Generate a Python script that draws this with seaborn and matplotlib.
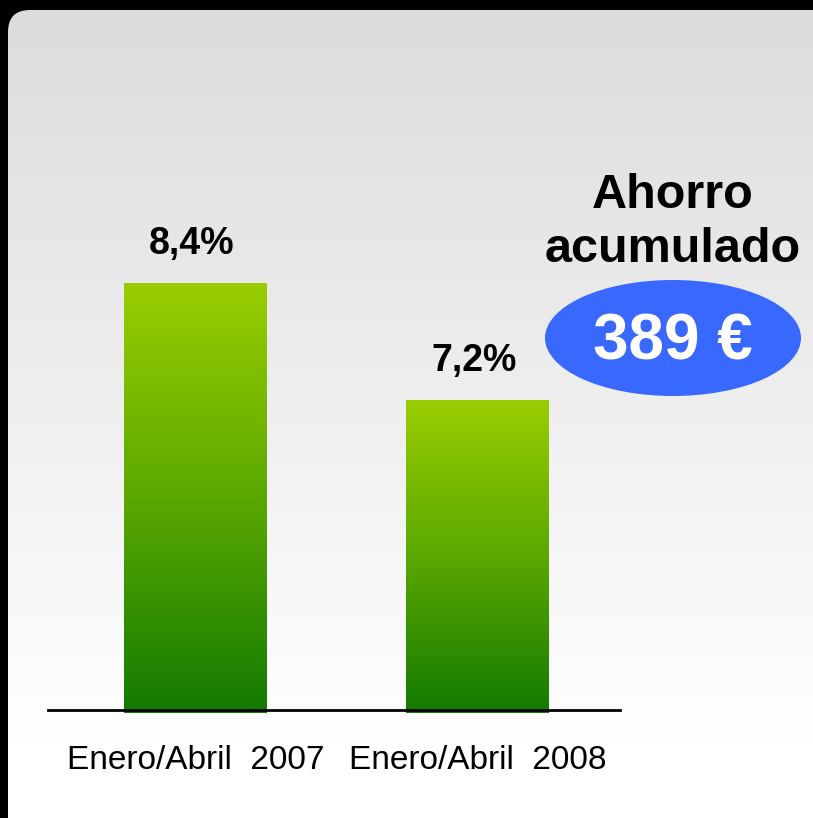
import numpy as np
import pandas as pd
import matplotlib.pyplot as plt
import seaborn as sns
from matplotlib.colors import LinearSegmentedColormap
from matplotlib.patches import FancyBboxPatch, Ellipse

# -----------------------------------------------------------------------------
# Data
# -----------------------------------------------------------------------------

periods = ["Enero/Abril  2007", "Enero/Abril  2008"]
savings_rate = [8.4, 7.2]
rate_labels = ["8,4%", "7,2%"]
ahorro_total = "389 €"
ahorro_lines = ["Ahorro", "acumulado"]

df = pd.DataFrame({"period": periods, "rate": savings_rate})

# -----------------------------------------------------------------------------
# Plotting attributes
# -----------------------------------------------------------------------------

sns.set_theme(style="white")
plt.rcParams["font.family"] = ["Liberation Sans", "DejaVu Sans"]

W, H = 813, 818
dpi = 100
y_min = 4.02          # value axis does not start at zero
y_max = 10.28

bar_cmap = LinearSegmentedColormap.from_list("bar", ["#127a00", "#5aa800", "#9acd00"])

fig = plt.figure(figsize=(W / dpi, H / dpi), dpi=dpi, facecolor="black")

# Background panel in pixel coords
ax_bg = fig.add_axes([0, 0, 1, 1], zorder=0)
ax_bg.set_xlim(0, W)
ax_bg.set_ylim(H, 0)
ax_bg.axis("off")

panel = FancyBboxPatch((8, 10), 840, 840, boxstyle="round,pad=0,rounding_size=22",
                       facecolor="none", edgecolor="none", transform=ax_bg.transData)
ax_bg.add_patch(panel)
rows = np.arange(10, 851)
grey = np.clip(220 + 35 * (rows - 10) / 730, 0, 255) / 255
grad = np.repeat(grey[:, None], 3, axis=1)[:, None, :]
img = ax_bg.imshow(grad, extent=(8, 848, 850, 10), origin="upper", aspect="auto")
img.set_clip_path(panel)

# -----------------------------------------------------------------------------
# Bars
# -----------------------------------------------------------------------------

ax = fig.add_axes([48 / W, (H - 710) / H, 572 / W, 610 / H], zorder=1)
ax.set_facecolor("none")
sns.barplot(x="period", y="rate", data=df, width=0.506, color="#5aa800", ax=ax)
ax.set_xlim(-0.522, 1.503)
ax.set_ylim(y_min, y_max)

for patch, lab in zip(ax.patches, rate_labels):
    x0 = patch.get_x()
    w = patch.get_width()
    h = patch.get_height()
    patch.set_facecolor("none")
    patch.set_edgecolor("none")
    gimg = ax.imshow(np.linspace(0, 1, 256).reshape(-1, 1), cmap=bar_cmap,
                     extent=(x0, x0 + w, y_min - 0.03, h), origin="lower", aspect="auto",
                     zorder=2, clip_on=False)
    ax.annotate(lab, (x0 + w / 2, h), xytext=(-3, 21), textcoords="offset points",
                ha="center", va="baseline", fontsize=27, fontweight="bold", color="black")

for side in ["top", "left", "right"]:
    ax.spines[side].set_visible(False)
ax.spines["bottom"].set_color("black")
ax.spines["bottom"].set_linewidth(2)
ax.spines["bottom"].set_zorder(3)
ax.set(xlabel=None, ylabel=None)
ax.set_yticks([])
ax.tick_params(axis="x", length=0, pad=25, labelsize=24, labelcolor="black")

# -----------------------------------------------------------------------------
# Accumulated savings callout
# -----------------------------------------------------------------------------

for txt, base in zip(ahorro_lines, [208, 262]):
    ax_bg.text(673, base, txt, ha="center", va="baseline", fontsize=35,
               fontweight="bold", color="black", zorder=3)
ax_bg.add_patch(Ellipse((673, 338), 256, 116, facecolor="#3868fd", edgecolor="none", zorder=3))
ax_bg.text(673, 360, ahorro_total, ha="center", va="baseline", fontsize=46,
           fontweight="bold", color="white", zorder=4)

plt.savefig("out.png", dpi=dpi, facecolor="black")
